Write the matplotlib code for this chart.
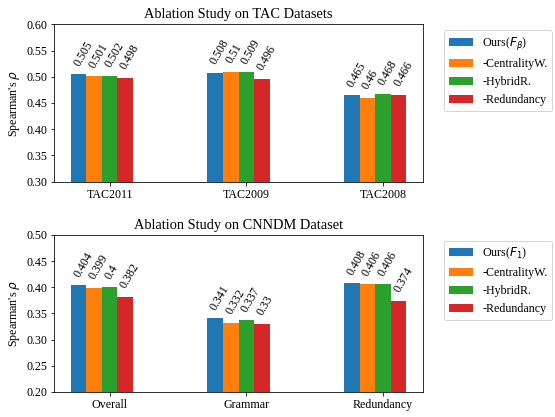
import matplotlib
matplotlib.use("Agg")
import matplotlib.pyplot as plt
import numpy as np

plt.rcParams['font.family'] = ['Liberation Serif', 'DejaVu Serif']
plt.rcParams['mathtext.fontset'] = 'dejavusans'
plt.rcParams['font.size'] = 12

series_names_tac = [r'Ours($F_{\beta}$)', '-CentralityW.', '-HybridR.', '-Redundancy']
series_names_cnn = [r'Ours($F_{1}$)', '-CentralityW.', '-HybridR.', '-Redundancy']
colors = ['#1f77b4', '#ff7f0e', '#2ca02c', '#d62728']

tac_categories = ['TAC2011', 'TAC2009', 'TAC2008']
tac_ours = [0.505, 0.508, 0.465]
tac_centrality = [0.501, 0.51, 0.46]
tac_hybrid = [0.502, 0.509, 0.468]
tac_redundancy = [0.498, 0.496, 0.466]

cnn_categories = ['Overall', 'Grammar', 'Redundancy']
cnn_ours = [0.404, 0.341, 0.408]
cnn_centrality = [0.399, 0.332, 0.406]
cnn_hybrid = [0.4, 0.337, 0.406]
cnn_redundancy = [0.382, 0.33, 0.374]

tac_yticks = [0.30, 0.35, 0.40, 0.45, 0.50, 0.55, 0.60]
cnn_yticks = [0.20, 0.25, 0.30, 0.35, 0.40, 0.45, 0.50]

DPI = 72
fig = plt.figure(figsize=(555 / DPI, 417 / DPI), dpi=DPI)
ax1 = fig.add_axes([0.0973, 0.5643, 0.665, 0.3774])
ax2 = fig.add_axes([0.0973, 0.0600, 0.665, 0.3765])

width = 0.114

def draw(ax, cats, series, names, yticks, title):
    x = np.arange(len(cats))
    for i, vals in enumerate(series):
        bars = ax.bar(x + (i - 2) * width, vals, width, color=colors[i], label=names[i])
        for b, v in zip(bars, vals):
            ax.annotate(str(v), xy=(b.get_x() + b.get_width() / 2, b.get_height()),
                        xytext=(0.5, 7.5), textcoords='offset points',
                        ha='left', va='baseline', rotation=60,
                        rotation_mode='anchor', fontsize=12)
    ax.set_xticks(x)
    ax.set_xticklabels(cats)
    ax.set_ylim(yticks[0], yticks[-1])
    ax.set_yticks(yticks)
    ax.set_yticklabels(['%.2f' % t for t in yticks])
    ax.set_ylabel(r"Spearman's $\rho$")
    ax.set_title(title, fontsize=14.4)
    ax.legend(loc='upper left', bbox_to_anchor=(1.04, 1))

draw(ax1, tac_categories, [tac_ours, tac_centrality, tac_hybrid, tac_redundancy],
     series_names_tac, tac_yticks, 'Ablation Study on TAC Datasets')
draw(ax2, cnn_categories, [cnn_ours, cnn_centrality, cnn_hybrid, cnn_redundancy],
     series_names_cnn, cnn_yticks, 'Ablation Study on CNNDM Dataset')

fig.savefig('out.png', dpi=DPI)
